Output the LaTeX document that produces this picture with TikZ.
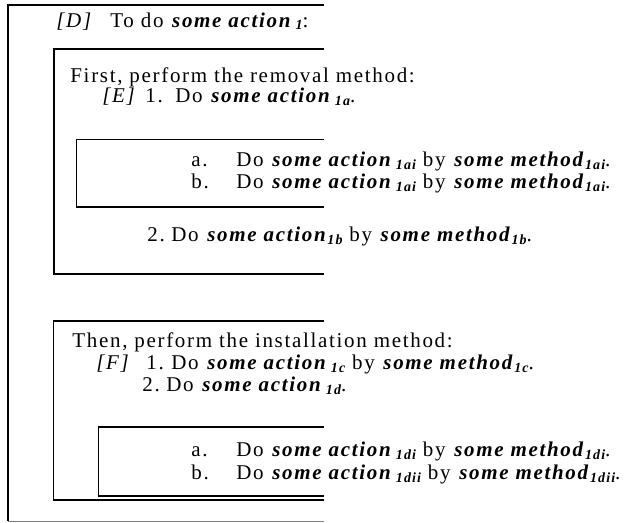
\documentclass[tikz,border=0pt]{standalone}
\usepackage{fontspec}
\setmainfont{Liberation Serif}[LetterSpace=8]
\newcommand{\bi}[1]{\textbf{\textit{#1}}}
\newcommand{\idx}[1]{\raisebox{-1.2pt}{\fontsize{7}{7}\selectfont\bfseries\itshape #1}}
\tikzset{
	txt/.style={anchor=base west,inner sep=0pt,font=\fontsize{10.5}{12}\selectfont},
	rule/.style={line width=0.85pt}
}
\begin{document}
\begin{tikzpicture}[x=0.5pt,y=-0.5pt]
		\useasboundingbox[fill=white] (0,0) rectangle (628,523);
		\draw[rule] (324,5) -| (8,521.5);
		\draw[rule,color=gray] (8,521.5) -- (324,521.5);
		\draw[rule] (324,49.3) -| (54,274.3) -- (324,274.3);
		\draw[rule] (324,139.5) -| (76.5,207.3) -- (324,207.3);
		\draw[rule] (324,320.7) -| (53.5,500.3) -- (324,500.3);
		\draw[rule] (324,427) -| (98.5,496) -- (324,496);
		\node[txt] (tagD) at (56,27.3) {\textit{[D]}};
		\node[txt] (headD) at (110,27.3) {To do \bi{some action}\,\idx{1}:};
		\node[txt] (remove) at (70,82.5) {First, perform the removal method:};
		\node[txt] (tagE) at (102,102.7) {\textit{[E]}};
		\node[txt] (numEa) at (145,102.7) {1.};
		\node[txt] (stepEa) at (175,102.7) {Do \bi{some action}\,\idx{1a}.};
		\node[txt] (subEa) at (191,166.7) {a.};
		\node[txt] (doEa) at (236,166.7) {Do \bi{some action}\,\idx{1ai} by \bi{some method}\idx{1ai}.};
		\node[txt] (subEb) at (191,189) {b.};
		\node[txt] (doEb) at (236,189) {Do \bi{some action}\,\idx{1ai} by \bi{some method}\idx{1ai}.};
		\node[txt] (numEb) at (147,241.7) {2.};
		\node[txt] (stepEb) at (171,241.7) {Do \bi{some action}\idx{1b} by \bi{some method}\idx{1b}.};
		\node[txt] (install) at (72,348) {Then, perform the installation method:};
		\node[txt] (tagF) at (96,370) {\textit{[F]}};
		\node[txt] (numFa) at (146,370) {1.};
		\node[txt] (stepFa) at (171,370) {Do \bi{some action}\,\idx{1c} by \bi{some method}\idx{1c}.};
		\node[txt] (numFb) at (142,391.7) {2.};
		\node[txt] (stepFb) at (166,391.7) {Do \bi{some action}\,\idx{1d}.};
		\node[txt] (subFa) at (191,456.7) {a.};
		\node[txt] (doFa) at (236,456.7) {Do \bi{some action}\,\idx{1di} by \bi{some method}\idx{1di}.};
		\node[txt] (subFb) at (191,480) {b.};
		\node[txt] (doFb) at (236,480) {Do \bi{some action}\,\idx{1dii} by \bi{some method}\idx{1dii}.};
	\end{tikzpicture}
\end{document}
